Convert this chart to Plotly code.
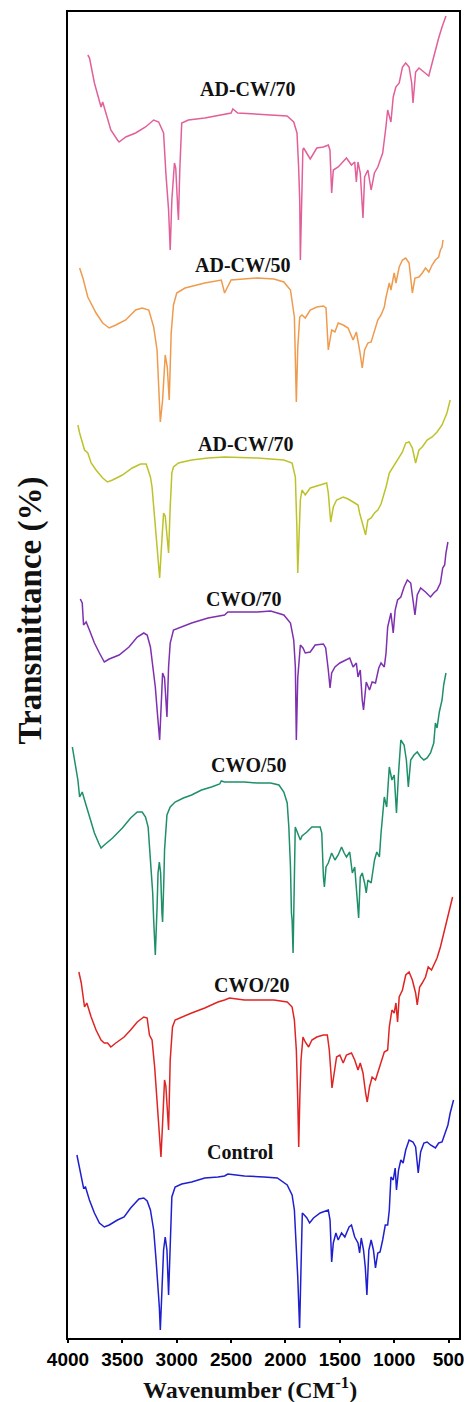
import plotly.graph_objects as go

# ---------------- data (wavenumber cm-1, stacked transmittance a.u.) ----------------
names = ["AD-CW/70", "AD-CW/50", "AD-CW/70", "CWO/70", "CWO/50", "CWO/20", "Control"]
colors = ["#E2609A", "#EF9B4E", "#BDC22A", "#7E30B0", "#1F8F6A", "#E02424", "#1F1FCF"]

wn_adcw70a = [3818, 3802, 3757, 3712, 3696, 3681, 3651, 3606, 3545, 3530, 3469, 3378, 3287, 3212, 3166, 3121,
              3100, 3075, 3060, 3045, 3021, 3009, 2990, 2984, 2972, 2954, 2893, 2742, 2500, 2484, 2439, 2257,
              1985, 1924, 1894, 1879, 1869, 1863, 1852, 1840, 1833, 1803, 1772, 1712, 1651, 1606, 1591, 1575,
              1560, 1515, 1484, 1439, 1393, 1363, 1348, 1333, 1312, 1287, 1272, 1242, 1212, 1182, 1151, 1121,
              1106, 1076, 1060, 1030, 1009, 985, 954, 924, 894, 863, 839, 827, 803, 772, 727, 682, 651, 621,
              591, 560, 524]
t_adcw70a = [1283, 1280, 1255, 1235, 1231, 1236, 1225, 1208, 1198, 1196, 1201, 1205, 1211, 1218, 1216, 1205,
             1165, 1128, 1088, 1138, 1175, 1170, 1128, 1118, 1168, 1215, 1218, 1220, 1225, 1229, 1225, 1224,
             1222, 1216, 1205, 1171, 1138, 1078, 1150, 1188, 1190, 1185, 1179, 1190, 1191, 1193, 1188, 1145,
             1168, 1171, 1175, 1180, 1173, 1176, 1156, 1176, 1165, 1120, 1161, 1168, 1148, 1165, 1171, 1180,
             1185, 1211, 1228, 1216, 1241, 1251, 1255, 1271, 1275, 1271, 1255, 1235, 1266, 1270, 1266, 1262,
             1275, 1288, 1300, 1311, 1322]

wn_adcw50 = [3893, 3863, 3818, 3787, 3772, 3742, 3681, 3621, 3560, 3469, 3378, 3318, 3257, 3233, 3212, 3181,
             3166, 3151, 3130, 3106, 3087, 3069, 3051, 3030, 3000, 2924, 2742, 2590, 2560, 2530, 2500, 2257,
             2106, 2015, 1954, 1918, 1909, 1900, 1887, 1869, 1848, 1818, 1772, 1712, 1651, 1627, 1606, 1575,
             1545, 1515, 1469, 1424, 1378, 1348, 1318, 1294, 1272, 1242, 1212, 1181, 1151, 1121, 1091, 1075,
             1045, 1030, 1000, 984, 954, 924, 894, 863, 848, 833, 809, 772, 742, 712, 681, 651, 621, 591,
             575, 560, 551]
t_adcw50 = [1070, 1060, 1041, 1035, 1031, 1025, 1015, 1010, 1013, 1018, 1028, 1030, 1028, 1018, 1011, 988,
            955, 916, 938, 983, 971, 938, 1005, 1033, 1045, 1050, 1055, 1058, 1045, 1052, 1058, 1060,
            1059, 1056, 1048, 1021, 988, 936, 990, 1021, 1023, 1020, 1028, 1031, 1032, 1030, 988, 1008,
            1006, 1015, 1013, 1010, 998, 1006, 988, 970, 988, 995, 996, 1008, 1018, 1023, 1031, 1041,
            1055, 1048, 1065, 1055, 1071, 1078, 1080, 1075, 1062, 1045, 1060, 1061, 1065, 1070, 1066, 1073,
            1078, 1081, 1088, 1091, 1098]

wn_adcw70b = [3909, 3893, 3848, 3818, 3787, 3742, 3681, 3636, 3590, 3500, 3409, 3333, 3281, 3263, 3242, 3227,
              3212, 3203, 3190, 3172, 3157, 3142, 3121, 3106, 3090, 3075, 3060, 3045, 3030, 2984, 2863, 2712,
              2560, 2257, 2015, 1939, 1909, 1900, 1895, 1887, 1875, 1863, 1848, 1818, 1772, 1681, 1621, 1606,
              1590, 1584, 1560, 1530, 1469, 1424, 1363, 1333, 1318, 1287, 1263, 1242, 1212, 1181, 1151, 1121,
              1075, 1045, 1015, 984, 954, 924, 894, 863, 833, 803, 772, 742, 697, 651, 606, 560, 515, 485]
t_adcw70b = [913, 905, 888, 885, 875, 868, 860, 856, 858, 863, 870, 874, 874, 868, 861, 851,
             831, 828, 805, 778, 760, 788, 825, 822, 801, 785, 831, 865, 871, 875, 878, 880,
             881, 880, 878, 875, 861, 838, 810, 765, 812, 838, 848, 843, 850, 853, 855, 845,
             825, 816, 831, 838, 841, 839, 835, 833, 825, 811, 803, 818, 820, 825, 828, 834,
             851, 865, 870, 875, 881, 886, 895, 896, 890, 875, 888, 891, 898, 901, 906, 913, 925, 938]

wn_cwo70 = [3887, 3869, 3857, 3833, 3803, 3757, 3711, 3666, 3621, 3530, 3439, 3363, 3303, 3272, 3242, 3218,
            3197, 3175, 3157, 3142, 3130, 3112, 3100, 3090, 3075, 3060, 3030, 2984, 2863, 2712, 2560, 2530,
            2257, 2136, 2015, 1954, 1924, 1909, 1900, 1887, 1863, 1839, 1818, 1772, 1727, 1651, 1630, 1606,
            1590, 1575, 1545, 1500, 1439, 1409, 1378, 1348, 1333, 1312, 1294, 1282, 1257, 1227, 1203, 1172,
            1142, 1121, 1091, 1075, 1060, 1045, 1030, 1009, 991, 969, 939, 909, 879, 848, 827, 809, 788,
            757, 712, 666, 636, 606, 575, 554, 536, 524, 506]
t_cwo70 = [739, 735, 713, 716, 708, 695, 685, 676, 679, 683, 691, 701, 705, 703, 691, 671,
           651, 621, 598, 635, 665, 660, 638, 621, 671, 695, 708, 710, 715, 720, 723, 726,
           726, 727, 723, 715, 698, 671, 598, 660, 693, 690, 685, 686, 693, 694, 690, 668,
           650, 665, 671, 675, 678, 680, 671, 675, 661, 668, 638, 628, 656, 648, 656, 655,
           670, 675, 671, 685, 711, 720, 725, 705, 728, 738, 741, 751, 758, 755, 740, 723, 743,
           750, 746, 741, 745, 748, 755, 770, 773, 785, 796]

wn_cwo50 = [3960, 3939, 3909, 3893, 3869, 3848, 3803, 3757, 3718, 3696, 3666, 3590, 3500, 3424, 3363, 3318,
            3287, 3263, 3242, 3221, 3212, 3197, 3181, 3172, 3160, 3148, 3136, 3130, 3118, 3112, 3090, 3060,
            3015, 2939, 2863, 2772, 2681, 2605, 2590, 2560, 2378, 2257, 2136, 2060, 2015, 1984, 1969, 1954,
            1945, 1939, 1930, 1918, 1910, 1863, 1848, 1803, 1757, 1681, 1666, 1651, 1642, 1627, 1606, 1575,
            1545, 1515, 1484, 1460, 1439, 1409, 1385, 1363, 1348, 1333, 1327, 1312, 1294, 1272, 1257, 1242,
            1212, 1181, 1160, 1136, 1121, 1091, 1069, 1045, 1021, 1000, 979, 960, 939, 909, 888, 870, 848,
            818, 788, 757, 727, 697, 666, 636, 621, 606, 585, 560, 545, 524]
t_cwo50 = [591, 576, 558, 541, 546, 538, 521, 505, 495, 490, 493, 500, 510, 520, 526, 526,
           521, 511, 478, 445, 418, 383, 430, 465, 476, 465, 425, 416, 460, 488, 523, 531,
           536, 540, 543, 548, 551, 554, 557, 556, 556, 555, 555, 553, 546, 535, 511, 471,
           425, 418, 385, 470, 511, 498, 502, 506, 511, 511, 505, 461, 451, 471, 475, 485,
           478, 483, 491, 485, 481, 486, 465, 471, 445, 425, 420, 461, 465, 455, 445, 458,
           455, 478, 486, 481, 505, 541, 531, 571, 558, 563, 525, 565, 598, 593, 578, 551, 578,
           583, 586, 581, 578, 580, 585, 595, 615, 610, 626, 638, 653, 665]

wn_cwo20 = [3900, 3878, 3848, 3827, 3787, 3742, 3696, 3666, 3636, 3606, 3560, 3484, 3424, 3363, 3303, 3272,
            3251, 3227, 3203, 3181, 3166, 3145, 3130, 3112, 3100, 3081, 3075, 3060, 3039, 3015, 2954, 2863,
            2742, 2621, 2560, 2515, 2378, 2106, 1984, 1939, 1918, 1900, 1887, 1878, 1868, 1857, 1839, 1818,
            1787, 1757, 1712, 1651, 1615, 1597, 1572, 1554, 1530, 1500, 1469, 1439, 1393, 1363, 1333, 1312,
            1287, 1263, 1248, 1227, 1203, 1172, 1142, 1112, 1091, 1060, 1045, 1021, 1000, 984, 969, 954,
            924, 894, 863, 833, 803, 788, 766, 742, 712, 687, 657, 627, 606, 575, 545, 515, 485, 463]
t_cwo20 = [366, 355, 331, 335, 321, 308, 298, 295, 295, 291, 295, 301, 308, 316, 321, 320,
           303, 298, 271, 238, 208, 181, 215, 258, 252, 225, 208, 278, 311, 318, 321, 325,
           330, 336, 338, 340, 338, 338, 336, 331, 318, 288, 238, 191, 240, 278, 301, 296,
           291, 298, 301, 303, 303, 288, 250, 265, 281, 283, 275, 283, 285, 278, 268, 275,
           265, 245, 236, 251, 261, 258, 268, 278, 286, 288, 311, 328, 325, 335, 316, 341,
           348, 363, 366, 358, 345, 333, 351, 355, 361, 371, 368, 375, 380, 391, 405, 418, 431, 441]

wn_control = [3918, 3900, 3869, 3857, 3839, 3803, 3757, 3711, 3666, 3621, 3545, 3484, 3424, 3348, 3303, 3272,
              3242, 3212, 3190, 3172, 3160, 3151, 3136, 3121, 3106, 3090, 3075, 3060, 3045, 3015, 2954, 2863,
              2742, 2621, 2560, 2530, 2378, 2197, 2075, 1984, 1939, 1918, 1900, 1887, 1870, 1857, 1845, 1827,
              1803, 1778, 1742, 1681, 1606, 1590, 1575, 1560, 1536, 1515, 1484, 1454, 1415, 1393, 1363, 1333,
              1318, 1303, 1282, 1266, 1251, 1233, 1212, 1191, 1172, 1151, 1130, 1106, 1082, 1060, 1045, 1030,
              1009, 991, 979, 960, 939, 918, 894, 863, 827, 803, 779, 757, 727, 697, 666, 621, 591, 560, 530,
              506, 485, 454]
t_control = [183, 173, 158, 150, 151, 138, 125, 115, 111, 113, 118, 121, 130, 139, 140, 137,
             128, 108, 78, 55, 31, 8, 41, 88, 101, 88, 43, 101, 141, 151, 154, 156,
             160, 161, 162, 164, 162, 161, 160, 153, 143, 128, 95, 61, 10, 61, 125, 123,
             120, 115, 120, 125, 128, 118, 76, 95, 105, 98, 105, 101, 111, 113, 101, 95,
             85, 100, 88, 71, 43, 88, 98, 88, 70, 85, 86, 98, 113, 113, 128, 161,
             158, 170, 148, 168, 178, 175, 188, 198, 196, 191, 165, 186, 195, 196, 193, 190, 195, 196, 205,
             213, 225, 238]

label_wn = [2348, 2394, 2361, 2384, 2333, 2309, 2415]
label_t = [1249, 1073, 894, 739, 573, 353, 186]

tick_vals = [4000, 3500, 3000, 2500, 2000, 1500, 1000, 500]
x_range = [4000, 404]
y_range = [0, 1326]

series_wn = [wn_adcw70a, wn_adcw50, wn_adcw70b, wn_cwo70, wn_cwo50, wn_cwo20, wn_control]
series_t = [t_adcw70a, t_adcw50, t_adcw70b, t_cwo70, t_cwo50, t_cwo20, t_control]

# ---------------- figure ----------------
fig = go.Figure()
for nm, col, xs, ys in zip(names, colors, series_wn, series_t):
    fig.add_trace(go.Scatter(x=xs, y=ys, mode="lines", name=nm,
                             line=dict(color=col, width=1.5), showlegend=False,
                             hoverinfo="skip"))

serif = "Liberation Serif, Times New Roman, serif"
for nm, xw, yt in zip(names, label_wn, label_t):
    fig.add_annotation(x=xw, y=yt, xref="x", yref="y", text="<b>%s</b>" % nm,
                       showarrow=False, font=dict(family=serif, size=20, color="#111111"),
                       xanchor="center", yanchor="middle")

fig.add_annotation(x=0.466, y=-0.0375, xref="paper", yref="paper",
                   text="<b>Wavenumber (CM<sup>-1</sup>)</b>", showarrow=False,
                   font=dict(family=serif, size=24, color="#111111"),
                   xanchor="center", yanchor="middle")
fig.add_annotation(x=-0.096, y=0.549, xref="paper", yref="paper",
                   text="<b>Transmittance (%)</b>", showarrow=False, textangle=-90,
                   font=dict(family=serif, size=33, color="#111111"),
                   xanchor="center", yanchor="middle")

fig.update_xaxes(range=x_range, tickvals=tick_vals, ticktext=[str(v) for v in tick_vals],
                 showgrid=False, zeroline=False, showline=True, linewidth=2, linecolor="black",
                 mirror=True, ticks="outside", ticklen=3, tickwidth=1.5, tickcolor="black",
                 tickfont=dict(family="Liberation Sans, Arial, sans-serif", size=19,
                               color="black", weight="bold"))
fig.update_yaxes(range=y_range, showgrid=False, zeroline=False, showline=True, linewidth=2,
                 linecolor="black", mirror=True, showticklabels=False, ticks="")

fig.update_layout(width=471, height=1402, autosize=False,
                  margin=dict(l=68, r=7, t=12, b=64),
                  paper_bgcolor="white", plot_bgcolor="white", showlegend=False)

fig.write_html("out.html", config={"displayModeBar": False},
               post_script="document.body.style.margin='0';document.body.style.overflow='hidden';")
